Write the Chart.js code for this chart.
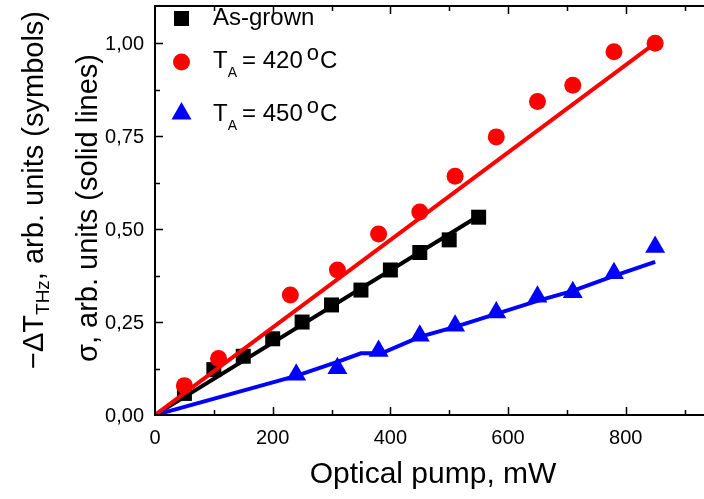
<!DOCTYPE html>
<html>
<head>
<meta charset="utf-8">
<script src="https://cdn.jsdelivr.net/npm/chart.js@4.4.1/dist/chart.umd.min.js"></script>
<style>
  html, body { margin: 0; padding: 0; overflow: hidden; background: #fff; }
  #wrap { width: 714px; height: 499px; }
</style>
</head>
<body>
<div id="wrap"><canvas id="chart" width="714" height="499"></canvas></div>
<script>
// Symbols (measured THz signal)
const asGrownX = [50, 100, 150, 200, 250, 300, 350, 400, 450, 500, 550];
const asGrownY = [0.058, 0.122, 0.158, 0.205, 0.25, 0.296, 0.336, 0.39, 0.437, 0.471, 0.532];
const ta420X = [50, 108, 230, 310, 380, 450, 510, 580, 650, 710, 780, 850];
const ta420Y = [0.079, 0.152, 0.323, 0.39, 0.487, 0.546, 0.642, 0.748, 0.843, 0.887, 0.977, 1.0];
const ta450X = [240, 310, 380, 450, 510, 580, 650, 710, 780, 850];
const ta450Y = [0.108, 0.126, 0.172, 0.213, 0.24, 0.276, 0.318, 0.33, 0.381, 0.452];

// Solid lines (conductivity)
const asGrownLineX = [0, 550];
const asGrownLineY = [0, 0.535];
const ta420LineX = [0, 850];
const ta420LineY = [0, 1.0];
const ta450LineX = [0, 240, 310, 350, 385, 450, 510, 580, 650, 710, 780, 850];
const ta450LineY = [0, 0.105, 0.143, 0.166, 0.166, 0.21, 0.237, 0.272, 0.307, 0.334, 0.374, 0.412];

const xTicks = [0, 200, 400, 600, 800];
const yTicks = [0, 0.25, 0.5, 0.75, 1.0];

function pts(xs, ys) {
    return xs.map((x, i) => ({ x: x, y: ys[i] }));
}

const FONT = '"Liberation Sans", Arial, sans-serif';

// Axes frame, inner ticks, tick labels, legend and titles
const framePlugin = {
    id: 'frame',
    afterDraw(chart) {
        const ctx = chart.ctx;
        const a = chart.chartArea;
        const xs = chart.scales.x;
        const ys = chart.scales.y;
        ctx.save();
        ctx.strokeStyle = '#000';
        ctx.lineWidth = 2;
        ctx.beginPath();
        ctx.moveTo(a.left, a.top);
        ctx.lineTo(a.right + 2, a.top);
        ctx.moveTo(a.left, a.top - 1);
        ctx.lineTo(a.left, a.bottom);
        ctx.moveTo(a.left - 1, a.bottom);
        ctx.lineTo(a.right + 2, a.bottom);
        ctx.stroke();

        // x ticks (bottom and top), every 100
        ctx.lineWidth = 1.5;
        ctx.beginPath();
        for (let v = 100; v <= 900; v += 100) {
            const px = Math.round(xs.getPixelForValue(v)) + 0.5;
            const len = v % 200 === 0 ? 8 : 5;
            ctx.moveTo(px, a.bottom);
            ctx.lineTo(px, a.bottom - len);
            ctx.moveTo(px, a.top);
            ctx.lineTo(px, a.top + len);
        }
        // y ticks, every 0.125
        for (let k = 1; k <= 8; k++) {
            const v = k * 0.125;
            const py = Math.round(ys.getPixelForValue(v)) + 0.5;
            const len = k % 2 === 0 ? 8 : 5;
            ctx.moveTo(a.left, py);
            ctx.lineTo(a.left + len, py);
        }
        ctx.stroke();

        // tick labels
        ctx.fillStyle = '#000';
        ctx.font = '20px ' + FONT;
        ctx.textBaseline = 'alphabetic';
        ctx.textAlign = 'center';
        xTicks.forEach(v => ctx.fillText(String(v), xs.getPixelForValue(v), a.bottom + 29));
        ctx.textAlign = 'right';
        yTicks.forEach(v => ctx.fillText(v.toFixed(2).replace('.', ','), a.left - 11, ys.getPixelForValue(v) + 7));

        // x title
        ctx.textAlign = 'center';
        ctx.font = '30px ' + FONT;
        ctx.fillText('Optical pump, mW', 433, 483);

        // legend
        ctx.fillStyle = '#000';
        ctx.fillRect(174, 11, 15, 15);
        ctx.fillStyle = '#ff0000';
        ctx.beginPath();
        ctx.arc(181.5, 62, 8.5, 0, Math.PI * 2);
        ctx.fill();
        ctx.fillStyle = '#0000ff';
        ctx.beginPath();
        ctx.moveTo(181.5, 102);
        ctx.lineTo(191.5, 119.5);
        ctx.lineTo(171.5, 119.5);
        ctx.closePath();
        ctx.fill();

        ctx.fillStyle = '#000';
        ctx.textAlign = 'left';
        ctx.font = '24px ' + FONT;
        ctx.fillText('As-grown', 213, 25);
        drawTa(ctx, '420', 68);
        drawTa(ctx, '450', 121);

        // y titles, rotated
        ctx.save();
        ctx.translate(43, 190);
        ctx.rotate(-Math.PI / 2);
        drawSub(ctx, ['\u2212\u0394T', 'THz', ', arb. units (symbols)'], 29);
        ctx.restore();
        ctx.save();
        ctx.translate(97, 208);
        ctx.rotate(-Math.PI / 2);
        ctx.font = '29px ' + FONT;
        ctx.textAlign = 'center';
        ctx.fillText('\u03c3, arb. units (solid lines)', 0, 0);
        ctx.restore();
        ctx.restore();
    }
};

function drawTa(ctx, temp, base) {
    let x = 213;
    ctx.font = '24px ' + FONT;
    ctx.fillText('T', x, base);
    x += ctx.measureText('T').width;
    ctx.font = '14px ' + FONT;
    ctx.fillText('A', x, base + 9);
    x += ctx.measureText('A').width + 5;
    ctx.font = '24px ' + FONT;
    ctx.fillText('= ' + temp, x, base);
    x += ctx.measureText('= ' + temp).width + 4;
    ctx.font = '22px ' + FONT;
    ctx.fillText('o', x, base - 8);
    x += ctx.measureText('o').width + 1;
    ctx.font = '24px ' + FONT;
    ctx.fillText('C', x, base);
}

// text with a subscript in the middle, centred at 0,0
function drawSub(ctx, parts, size) {
    const big = size + 'px ' + FONT;
    const small = Math.round(size * 0.65) + 'px ' + FONT;
    ctx.font = big;
    const w0 = ctx.measureText(parts[0]).width;
    const w2 = ctx.measureText(parts[2]).width;
    ctx.font = small;
    const w1 = ctx.measureText(parts[1]).width;
    let x = -(w0 + w1 + w2) / 2;
    ctx.textAlign = 'left';
    ctx.font = big;
    ctx.fillText(parts[0], x, 0);
    x += w0;
    ctx.font = small;
    ctx.fillText(parts[1], x, 6);
    x += w1;
    ctx.font = big;
    ctx.fillText(parts[2], x, 0);
}

const lineStyle = { showLine: true, pointRadius: 0, borderWidth: 4, fill: false, tension: 0 };
const symStyle = { showLine: false, borderWidth: 0 };

new Chart(document.getElementById('chart'), {
    type: 'scatter',
    data: {
        datasets: [
            Object.assign({ label: 'As-grown line', data: pts(asGrownLineX, asGrownLineY), borderColor: '#000', order: 6 }, lineStyle),
            Object.assign({ label: 'As-grown', data: pts(asGrownX, asGrownY), pointStyle: 'rect', pointRadius: 10.6,
                backgroundColor: '#000', order: 5 }, symStyle),
            Object.assign({ label: 'TA 450 line', data: pts(ta450LineX, ta450LineY), borderColor: '#0000ff', order: 4 }, lineStyle),
            Object.assign({ label: 'TA = 450 oC', data: pts(ta450X, ta450Y), pointStyle: 'triangle', pointRadius: 11.5,
                backgroundColor: '#0000ff', order: 3 }, symStyle),
            Object.assign({ label: 'TA 420 line', data: pts(ta420LineX, ta420LineY), borderColor: '#ff0000', order: 2 }, lineStyle),
            Object.assign({ label: 'TA = 420 oC', data: pts(ta420X, ta420Y), pointStyle: 'circle', pointRadius: 8.5,
                backgroundColor: '#ff0000', order: 1 }, symStyle)
        ]
    },
    options: {
        responsive: false,
        animation: false,
        layout: { autoPadding: false, padding: { left: 0, top: 6, right: 0, bottom: 0 } },
        plugins: {
            legend: { display: false },
            tooltip: { enabled: false }
        },
        scales: {
            x: {
                type: 'linear',
                min: 0,
                max: 950,
                afterBuildTicks: axis => { axis.ticks = xTicks.map(v => ({ value: v })); },
                afterFit: axis => { axis.height = 84; },
                grid: { display: false },
                border: { display: false },
                ticks: { display: false }
            },
            y: {
                type: 'linear',
                min: 0,
                max: 1.1,
                afterBuildTicks: axis => { axis.ticks = yTicks.map(v => ({ value: v })); },
                afterFit: axis => { axis.width = 155; },
                grid: { display: false },
                border: { display: false },
                ticks: { display: false }
            }
        }
    },
    plugins: [framePlugin]
});
</script>
</body>
</html>
